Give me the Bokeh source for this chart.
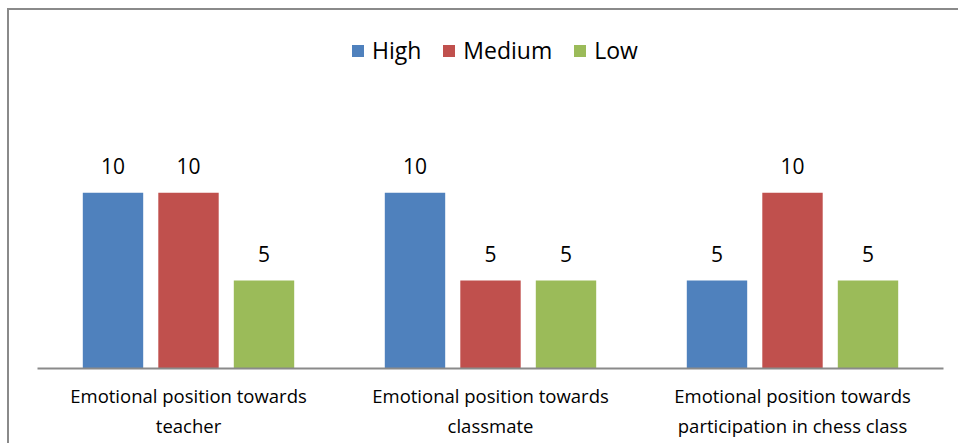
from bokeh.plotting import figure
from bokeh.models import ColumnDataSource, FactorRange, Range1d, Legend, LegendItem, LabelSet
from bokeh.core.properties import value
from bokeh.transform import dodge
from bokeh.embed import file_html
from bokeh.resources import INLINE

categories = ["Emotional position towards\nteacher",
              "Emotional position towards\nclassmate",
              "Emotional position towards\nparticipation in chess class"]
series = ["High", "Medium", "Low"]
high = [10, 10, 5]
medium = [10, 5, 10]
low = [5, 5, 5]
colors = ["#4F81BD", "#C0504D", "#9BBB59"]

src = ColumnDataSource(dict(cat=categories, High=high, Medium=medium, Low=low,
                            High_t=[str(v) for v in high],
                            Medium_t=[str(v) for v in medium],
                            Low_t=[str(v) for v in low]))

p = figure(x_range=FactorRange(*categories), y_range=Range1d(0, 19.8),
           width=951, height=435, output_backend="svg", toolbar_location=None,
           min_border_left=28, min_border_right=17, min_border_top=10, min_border_bottom=77)
p.styles = {"border-left": "2px solid #8A8A8A", "border-top": "2px solid #8A8A8A",
            "margin-left": "7px", "margin-top": "8px"}
p.outline_line_color = None
p.background_fill_color = "white"
p.border_fill_color = "white"

offsets = [-0.25, 0.0, 0.25]
items = []
for s, off, c in zip(series, offsets, colors):
    r = p.vbar(x=dodge("cat", off, range=p.x_range), top=s, width=0.2, source=src,
               fill_color=c, line_color=None)
    items.append(LegendItem(label=s, renderers=[r]))
    lbl = LabelSet(x=dodge("cat", off, range=p.x_range), y=s, text=s + "_t", source=src,
                   text_align="center", text_baseline="alphabetic", y_offset=19,
                   text_font=value("Open Sans"), text_font_size="21px", text_color="black")
    p.add_layout(lbl)

legend = Legend(items=items, orientation="horizontal", location=(313, 302),
                glyph_width=15, glyph_height=15, label_standoff=7, spacing=20,
                padding=0, margin=0, border_line_color=None, background_fill_alpha=0,
                label_text_font="Open Sans", label_text_font_size="23px",
                label_text_color="black", label_height=15)
p.add_layout(legend, "center")

p.yaxis.visible = False
p.xgrid.grid_line_color = None
p.ygrid.grid_line_color = None
p.xaxis.axis_line_color = "#8A8A8A"
p.xaxis.axis_line_width = 2
p.xaxis.major_tick_line_color = None
p.xaxis.minor_tick_line_color = None
p.xaxis.major_label_text_font = "Open Sans"
p.xaxis.major_label_text_font_size = "18.5px"
p.xaxis.major_label_text_color = "black"
p.xaxis.major_label_standoff = 8
p.x_range.range_padding = 0
p.x_range.group_padding = 0

open("out.html", "w").write(file_html(p, INLINE))
